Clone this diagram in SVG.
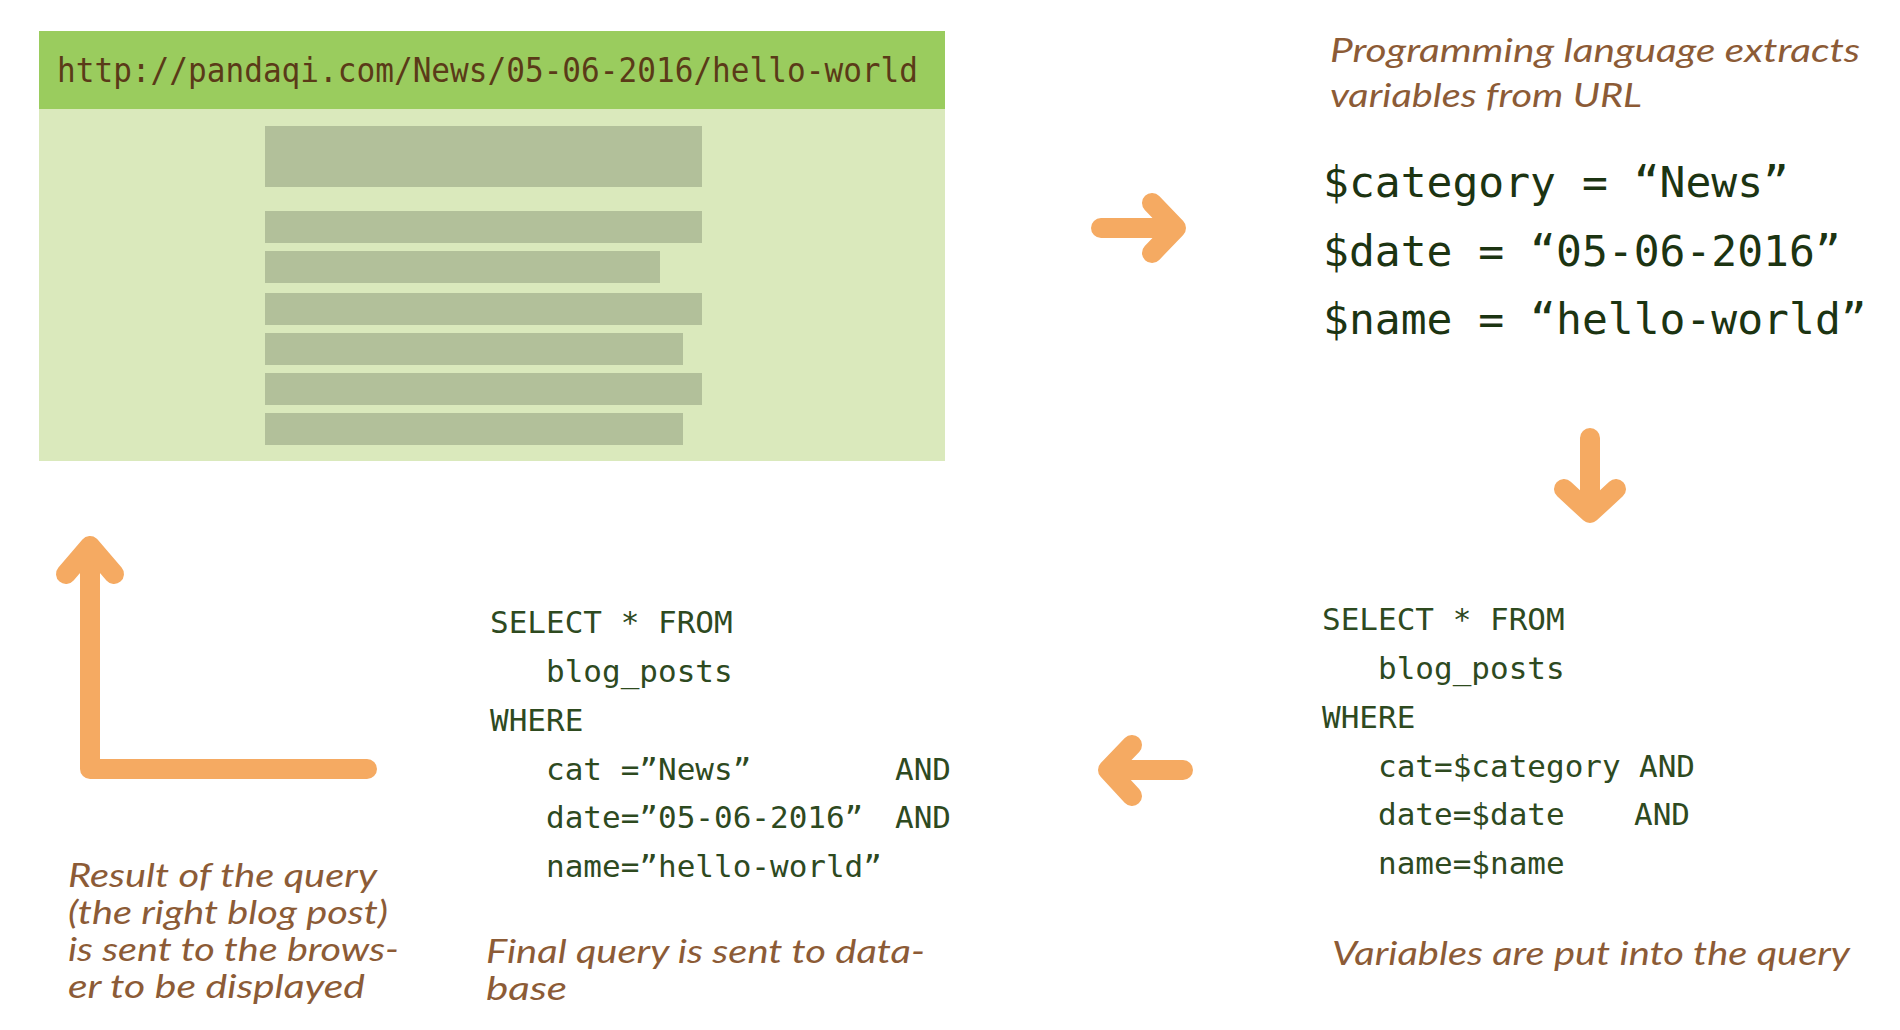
<svg xmlns="http://www.w3.org/2000/svg" width="1900" height="1030" viewBox="0 0 1900 1030">
<style>
.bar{fill:#B2C09A}
.mono{font-family:"DejaVu Sans Mono","Liberation Mono",monospace}
.code{font-size:31px;fill:#2E4A1F}
.vars{font-size:43px;fill:#1C3412}
.cap{font-family:Lato,"Open Sans","Liberation Sans",sans-serif;font-style:italic;font-weight:400;font-size:33px;fill:#8C5B36}
.arrow{fill:none;stroke:#F5AA62;stroke-width:20;stroke-linecap:round;stroke-linejoin:round}
</style>
<rect width="1900" height="1030" fill="#FFFFFF"/>
<g id="browser">
<rect x="39" y="31" width="906" height="430" fill="#DAE9BC"/>
<rect x="39" y="31" width="906" height="78" fill="#9ACC5E"/>
<text class="mono" x="57" y="82" font-size="34" fill="#5A3A18" textLength="861" lengthAdjust="spacingAndGlyphs">http://pandaqi.com/News/05-06-2016/hello-world</text>
<rect class="bar" x="265" y="126" width="437" height="61"/>
<rect class="bar" x="265" y="211" width="437" height="32"/>
<rect class="bar" x="265" y="251" width="395" height="32"/>
<rect class="bar" x="265" y="293" width="437" height="32"/>
<rect class="bar" x="265" y="333" width="418" height="32"/>
<rect class="bar" x="265" y="373" width="437" height="32"/>
<rect class="bar" x="265" y="413" width="418" height="32"/>
</g>
<g id="extract">
<text class="cap" x="1330" y="62" textLength="530" lengthAdjust="spacingAndGlyphs">Programming language extracts</text>
<text class="cap" x="1330" y="107" textLength="312" lengthAdjust="spacingAndGlyphs">variables from URL</text>
<text class="mono vars" x="1323" y="197">$category = “News”</text>
<text class="mono vars" x="1323" y="266">$date = “05-06-2016”</text>
<text class="mono vars" x="1323" y="334">$name = “hello-world”</text>
</g>
<g id="query-template">
<text class="mono code" x="1322" y="630">SELECT * FROM</text>
<text class="mono code" x="1378" y="679">blog_posts</text>
<text class="mono code" x="1322" y="728">WHERE</text>
<text class="mono code" x="1378" y="777">cat=$category</text>
<text class="mono code" x="1639" y="777">AND</text>
<text class="mono code" x="1378" y="825">date=$date</text>
<text class="mono code" x="1634" y="825">AND</text>
<text class="mono code" x="1378" y="874">name=$name</text>
<text class="cap" x="1332" y="965" textLength="518" lengthAdjust="spacingAndGlyphs">Variables are put into the query</text>
</g>
<g id="query-final">
<text class="mono code" x="490" y="633">SELECT * FROM</text>
<text class="mono code" x="546" y="682">blog_posts</text>
<text class="mono code" x="490" y="731">WHERE</text>
<text class="mono code" x="546" y="780">cat =”News”</text>
<text class="mono code" x="895" y="780">AND</text>
<text class="mono code" x="546" y="828">date=”05-06-2016”</text>
<text class="mono code" x="895" y="828">AND</text>
<text class="mono code" x="546" y="877">name=”hello-world”</text>
<text class="cap" x="486" y="963" textLength="439" lengthAdjust="spacingAndGlyphs">Final query is sent to data-</text>
<text class="cap" x="486" y="1000" textLength="81" lengthAdjust="spacingAndGlyphs">base</text>
</g>
<g id="result">
<text class="cap" x="68" y="887" textLength="309" lengthAdjust="spacingAndGlyphs">Result of the query</text>
<text class="cap" x="68" y="924" textLength="320" lengthAdjust="spacingAndGlyphs">(the right blog post)</text>
<text class="cap" x="68" y="961" textLength="331" lengthAdjust="spacingAndGlyphs">is sent to the brows-</text>
<text class="cap" x="68" y="998" textLength="297" lengthAdjust="spacingAndGlyphs">er to be displayed</text>
</g>
<g id="connectors">
<path class="arrow" d="M1101 228H1176M1152 203L1176 228L1152 253"/>
<path class="arrow" d="M1590 438V513M1564 489L1590 513L1616 489"/>
<path class="arrow" d="M1183 770H1108M1132 745L1108 770L1132 796"/>
<path class="arrow" d="M367 769H90V548" stroke-linejoin="miter"/>
<path class="arrow" d="M66 574L90 546L114 574"/>
</g>
</svg>
